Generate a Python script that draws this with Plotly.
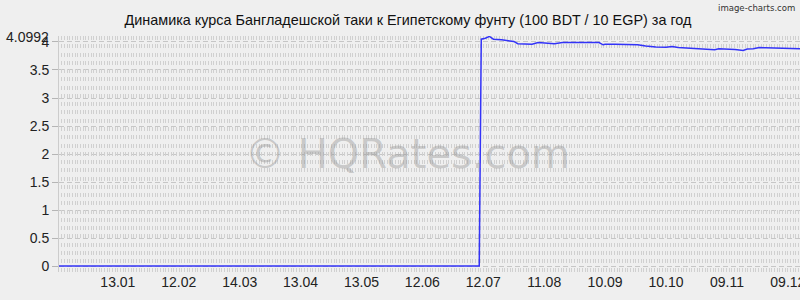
import plotly.graph_objects as go

# ---- data ----
title_text = "Динамика курса Бангладешской таки к Египетскому фунту (100 BDT / 10 EGP) за год"
dates = [
    "2022-12-15", "2023-07-10", "2023-07-11", "2023-07-13", "2023-07-15", "2023-07-17",
    "2023-07-21", "2023-07-25", "2023-07-27", "2023-07-29", "2023-08-02", "2023-08-05",
    "2023-08-08", "2023-08-12", "2023-08-16", "2023-08-20", "2023-08-25", "2023-08-30",
    "2023-09-04", "2023-09-07", "2023-09-09", "2023-09-10", "2023-09-15", "2023-09-20",
    "2023-09-26", "2023-09-30", "2023-10-05", "2023-10-10", "2023-10-13", "2023-10-16",
    "2023-10-21", "2023-10-26", "2023-10-30", "2023-11-03", "2023-11-05", "2023-11-10",
    "2023-11-13", "2023-11-17", "2023-11-19", "2023-11-22", "2023-11-25", "2023-11-28",
    "2023-12-03", "2023-12-08", "2023-12-13", "2023-12-15",
]
values = [
    0, 0, 4.05, 4.066, 4.0992, 4.05,
    4.04, 4.02, 4.01, 3.97, 3.97, 3.96,
    3.99, 3.985, 3.97, 3.99, 3.99, 3.995,
    3.995, 3.99, 3.95, 3.96, 3.96, 3.955,
    3.95, 3.93, 3.91, 3.905, 3.92, 3.90,
    3.89, 3.88, 3.86, 3.86, 3.88, 3.875,
    3.865, 3.85, 3.875, 3.88, 3.90, 3.895,
    3.89, 3.89, 3.88, 3.88,
]
tick_dates = ["2023-01-13", "2023-02-12", "2023-03-14", "2023-04-13", "2023-05-13",
              "2023-06-12", "2023-07-12", "2023-08-11", "2023-09-10", "2023-10-10",
              "2023-11-09", "2023-12-09"]
tick_labels = ["13.01", "12.02", "14.03", "13.04", "13.05", "12.06", "12.07",
               "11.08", "10.09", "10.10", "09.11", "09.12"]
y_ticks = [0, 0.5, 1, 1.5, 2, 2.5, 3, 3.5, 4]
y_tick_labels = ["0", "0.5", "1", "1.5", "2", "2.5", "3", "3.5", "4"]
max_value = 4.0992
max_label = "4.0992"

BG = "#efefef"
FONT = "Liberation Sans, Arial, sans-serif"

fig = go.Figure()
# dummy trace to activate texture axis
fig.add_trace(go.Scatter(x=[0], y=[None], xaxis="x2", yaxis="y", showlegend=False,
                         hoverinfo="skip", mode="lines"))
fig.add_trace(go.Scatter(x=dates, y=values, mode="lines",
                         line=dict(color="#3333f8", width=1.5), showlegend=False,
                         hoverinfo="skip"))

fig.update_layout(
    width=800, height=300,
    margin=dict(l=59, r=0, t=36, b=28, autoexpand=False),
    paper_bgcolor=BG, plot_bgcolor=BG,
    font=dict(family=FONT, size=14, color="#222222"),
    title=dict(text=title_text, x=0.51, xanchor="center", y=0.935, yanchor="middle",
               font=dict(family=FONT, size=14.4, color="#111111")),
    xaxis=dict(type="date", range=["2022-12-15", "2023-12-15"], automargin=False,
               tickvals=tick_dates, ticktext=tick_labels, ticklabeloverflow="allow",
               showgrid=False, zeroline=False, showline=False, ticks="",
               tickfont=dict(size=14, color="#222222")),
    xaxis2=dict(overlaying="x", anchor="y", range=[0, 277.5], tick0=0, dtick=1,
                automargin=False,
                showgrid=True, gridcolor="#d0d0d0", gridwidth=1, griddash="4px,4.27px",
                showticklabels=False, ticks="", zeroline=False, showline=False),
    yaxis=dict(range=[-0.107, 4.107], tickvals=y_ticks, ticktext=y_tick_labels,
               automargin=False,
               showgrid=True, gridcolor="#c6c6c6", gridwidth=1, griddash="5px,3px",
               zeroline=False, showline=True, linecolor="#cccccc", linewidth=1,
               ticks="outside", ticklen=6, tickcolor="#b5b5b5",
               tickfont=dict(size=14, color="#222222")),
    annotations=[
        dict(text=max_label, xref="paper", yref="y", x=0, y=max_value,
             xanchor="right", yanchor="middle", xshift=-8, yshift=-1, showarrow=False,
             font=dict(family=FONT, size=14, color="#222222")),
        dict(text="© HQRates.com", xref="paper", yref="paper", x=0.47, y=0.5,
             xanchor="center", yanchor="middle", showarrow=False,
             font=dict(family="DejaVu Sans, sans-serif", size=40, color="rgba(140,140,140,0.4)")),
        dict(text="image-charts.com", xref="paper", yref="paper", x=1, y=1,
             xanchor="right", yanchor="middle", xshift=-3, yshift=29,
             showarrow=False,
             font=dict(family="DejaVu Sans Condensed, DejaVu Sans, sans-serif", size=9.5,
                       color="#333333")),
    ],
)

fig.write_html("out.html")
